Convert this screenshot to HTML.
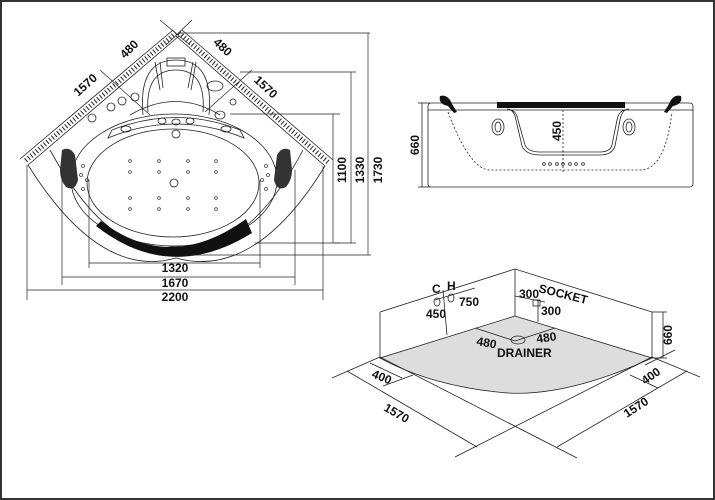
<!DOCTYPE html>
<html><head><style>body{margin:0;background:#fff}svg{display:block}text{font-family:"Liberation Sans",Arial,sans-serif;font-weight:bold;font-size:12px;fill:#111}</style></head>
<body>
<svg width="715" height="500" viewBox="0 0 715 500" xmlns="http://www.w3.org/2000/svg">
<rect x="1" y="1" width="713" height="498" fill="#fff" stroke="#333" stroke-width="2"/>
<g fill="none" stroke="#222" stroke-width="0.8">
<line x1="173" y1="30" x2="20" y2="159"/>
<line x1="179" y1="36" x2="28" y2="165"/>
<line x1="176" y1="33" x2="24" y2="162" stroke-width="5" stroke-dasharray="1 2.5"/>
<line x1="182" y1="30" x2="333" y2="160"/>
<line x1="176" y1="36" x2="325" y2="166"/>
<line x1="179" y1="33" x2="329" y2="163" stroke-width="5" stroke-dasharray="1 2.5"/>
<line x1="160" y1="20" x2="190" y2="45"/><line x1="192" y1="20" x2="166" y2="45"/>
<path d="M28 165 Q100 280 176 258 Q255 280 325 166"/>
<path d="M50 150 Q110 260 176 246 Q245 260 303 150"/>
<ellipse cx="173" cy="183" rx="86" ry="54"/>
<ellipse cx="174" cy="180" rx="103" ry="66"/>
<path d="M112 130 Q176 105 240 130 L244 138 Q176 110 108 138 Z"/>
<path d="M130 115 Q176 88 220 115"/>
<path d="M148 112 Q145 70 176 70 Q206 70 203 112" />
<path d="M143 115 Q138 60 176 60 Q214 60 209 115"/>
<rect x="167" y="58" width="18" height="8"/>
<line x1="155" y1="62" x2="160" y2="90"/><line x1="160" y1="62" x2="163" y2="88"/>
<line x1="196" y1="62" x2="191" y2="90"/><line x1="193" y1="62" x2="188" y2="88"/>
<ellipse cx="215" cy="86" rx="8" ry="5"/>
<ellipse cx="220" cy="115" rx="5" ry="4"/>
<circle cx="135" cy="97" r="4"/><circle cx="122" cy="101" r="4"/><circle cx="111" cy="107" r="4"/><circle cx="92" cy="118" r="4"/>
<circle cx="233" cy="102" r="3"/>
<ellipse cx="126" cy="129" rx="5" ry="3"/><ellipse cx="226" cy="129" rx="5" ry="3"/>
<ellipse cx="162" cy="121" rx="4" ry="3"/><ellipse cx="176" cy="122" rx="4" ry="3"/><ellipse cx="190" cy="121" rx="4" ry="3"/>
<circle cx="176" cy="134" r="4"/>
<circle cx="174" cy="183" r="4"/>
</g>
<path d="M96 226 Q170 284 252 233 L246 219 Q170 274 101 221 Z" fill="#111"/>
<path d="M62 150 Q70 146 75 155 L78 180 Q75 192 66 187 Q60 180 60 170 Z" fill="#333"/>
<path d="M290 150 Q282 146 277 155 L274 180 Q277 192 286 187 Q292 180 292 170 Z" fill="#333"/>
<g fill="none" stroke="#444" stroke-width="0.8">
<circle cx="130" cy="161" r="1.4"/><circle cx="159" cy="161" r="1.4"/><circle cx="188" cy="161" r="1.4"/><circle cx="216" cy="161" r="1.4"/>
<circle cx="130" cy="172" r="1.4"/><circle cx="159" cy="172" r="1.4"/><circle cx="188" cy="172" r="1.4"/><circle cx="216" cy="172" r="1.4"/>
<circle cx="130" cy="198" r="1.4"/><circle cx="159" cy="198" r="1.4"/><circle cx="188" cy="198" r="1.4"/><circle cx="216" cy="198" r="1.4"/>
<circle cx="130" cy="209" r="1.4"/><circle cx="159" cy="209" r="1.4"/><circle cx="188" cy="209" r="1.4"/><circle cx="216" cy="209" r="1.4"/>
<circle cx="83" cy="166" r="1.5"/><circle cx="81" cy="175" r="1.5"/><circle cx="87" cy="180" r="1.5"/><circle cx="83" cy="189" r="1.5"/>
<circle cx="266" cy="166" r="1.5"/><circle cx="268" cy="175" r="1.5"/><circle cx="262" cy="180" r="1.5"/><circle cx="266" cy="189" r="1.5"/>
</g>
<g stroke="#222" stroke-width="0.7" fill="none">
<line x1="89" y1="263" x2="260" y2="263"/><line x1="89" y1="180" x2="89" y2="268"/><line x1="260" y1="180" x2="260" y2="268"/>
<line x1="62" y1="277" x2="295" y2="277"/><line x1="62" y1="170" x2="62" y2="285"/><line x1="295" y1="170" x2="295" y2="285"/>
<line x1="27" y1="290" x2="323" y2="290"/><line x1="27" y1="165" x2="27" y2="300"/><line x1="323" y1="166" x2="323" y2="300"/>
<line x1="333" y1="114" x2="333" y2="243"/><line x1="230" y1="114" x2="340" y2="114"/><line x1="255" y1="243" x2="340" y2="243"/>
<line x1="351" y1="72" x2="351" y2="243"/><line x1="240" y1="72" x2="356" y2="72"/><line x1="335" y1="243" x2="356" y2="243"/>
<line x1="368" y1="33" x2="368" y2="255"/><line x1="180" y1="33" x2="370" y2="33"/><line x1="190" y1="255" x2="371" y2="255"/>
<line x1="100" y1="70" x2="150" y2="115"/><line x1="252" y1="70" x2="205" y2="112"/>
</g>
<text x="175" y="272" text-anchor="middle">1320</text>
<text x="175" y="287" text-anchor="middle">1670</text>
<text x="175" y="301" text-anchor="middle">2200</text>
<text transform="translate(346,170) rotate(-90)" text-anchor="middle">1100</text>
<text transform="translate(364,170) rotate(-90)" text-anchor="middle">1330</text>
<text transform="translate(382,170) rotate(-90)" text-anchor="middle">1730</text>
<text transform="translate(88,88) rotate(-42)" text-anchor="middle">1570</text>
<text transform="translate(132,52) rotate(-45)" text-anchor="middle">480</text>
<text transform="translate(220,50) rotate(43)" text-anchor="middle">480</text>
<text transform="translate(263,90) rotate(43)" text-anchor="middle">1570</text>
<g fill="none" stroke="#222" stroke-width="0.8">
<rect x="428" y="103" width="265" height="84" rx="3"/>
<line x1="428" y1="110" x2="693" y2="110"/>
<path d="M510 110 Q516 110 518 120 L525 145 Q528 152 540 152 L600 152 Q610 152 612 145 L617 120 Q619 110 626 110"/>
<path d="M507 109 Q514 109 516 120 L522 146 Q526 155 540 155 L600 155 Q612 155 615 146 L620 120 Q622 109 629 109"/>
<path d="M448 112 Q470 170 490 170 L640 170 Q665 170 672 112" stroke-dasharray="2 2"/>
<line x1="563" y1="110" x2="563" y2="173" stroke-dasharray="2 2"/>
<ellipse cx="498" cy="127" rx="6" ry="8"/><ellipse cx="498" cy="127" rx="3" ry="5"/>
<ellipse cx="629" cy="127" rx="6" ry="8"/><ellipse cx="629" cy="127" rx="3" ry="5"/>
<circle cx="544" cy="164" r="1.4"/><circle cx="550" cy="164" r="1.4"/><circle cx="557" cy="164" r="1.4"/><circle cx="563" cy="164" r="1.4"/><circle cx="570" cy="164" r="1.4"/><circle cx="576" cy="164" r="1.4"/><circle cx="583" cy="164" r="1.4"/>
<line x1="422" y1="103" x2="422" y2="187"/><line x1="418" y1="103" x2="430" y2="103"/><line x1="418" y1="187" x2="430" y2="187"/>
</g>
<rect x="497" y="102" width="128" height="6" fill="#111"/>
<path d="M440 96 Q448 94 452 104 L457 112 L454 113 L448 106 Q438 104 440 96 Z" fill="#111"/>
<path d="M681 96 Q673 94 669 104 L664 112 L667 113 L673 106 Q683 104 681 96 Z" fill="#111"/>
<text transform="translate(561,131) rotate(-90)" text-anchor="middle" font-size="14">450</text>
<text transform="translate(419,145) rotate(-90)" text-anchor="middle" font-size="14">660</text>
<path d="M380 358 L515 316 L652 358 Q560 400 497 392 Q430 385 380 358 Z" fill="#ddd" stroke="#222" stroke-width="0.8"/>
<g fill="none" stroke="#222" stroke-width="0.8">
<path d="M380 358 L380 312 L515 269 L652 312 L652 358"/>
<line x1="515" y1="269" x2="515" y2="316"/>
<line x1="663" y1="312" x2="663" y2="358"/><line x1="652" y1="312" x2="667" y2="312"/><line x1="652" y1="358" x2="667" y2="358"/>
<line x1="443" y1="290" x2="447" y2="335"/>
<line x1="435" y1="300" x2="475" y2="288"/>
<ellipse cx="437" cy="302" rx="3" ry="4"/><ellipse cx="451" cy="298" rx="3" ry="4"/>
<line x1="515" y1="296" x2="545" y2="302"/><line x1="538" y1="300" x2="538" y2="322"/>
<rect x="533" y="300" width="7" height="6"/>
<line x1="475" y1="328" x2="515" y2="341"/><line x1="515" y1="341" x2="555" y2="328"/>
<ellipse cx="518" cy="340" rx="7" ry="4"/>
<line x1="332" y1="378" x2="380" y2="357"/>
<line x1="347" y1="371" x2="477" y2="447"/>
<line x1="370" y1="363" x2="402" y2="378"/>
<line x1="383" y1="386" x2="413" y2="375"/>
<line x1="380" y1="357" x2="577" y2="458"/>
<line x1="455" y1="457" x2="652" y2="357"/>
<line x1="557" y1="447" x2="687" y2="371"/>
<line x1="700" y1="377" x2="652" y2="357"/>
<line x1="630" y1="375" x2="658" y2="388"/>
<line x1="645" y1="365" x2="675" y2="350"/>
</g>
<text x="432" y="293">C</text><text x="447" y="290">H</text>
<text x="459" y="306">750</text><text x="426" y="318">450</text>
<text x="519" y="298">300</text><text x="541" y="315">300</text>
<text transform="translate(538,292) rotate(14)">SOCKET</text>
<text transform="translate(476,345) rotate(10)">480</text>
<text transform="translate(537,343) rotate(-8)">480</text>
<text x="497" y="357">DRAINER</text>
<text transform="translate(371,377) rotate(22)">400</text>
<text transform="translate(645,385) rotate(-35)">400</text>
<text transform="translate(383,410) rotate(30)">1570</text>
<text transform="translate(627,418) rotate(-33)">1570</text>
<text transform="translate(672,345) rotate(-90)">660</text>
</svg>
</body></html>
